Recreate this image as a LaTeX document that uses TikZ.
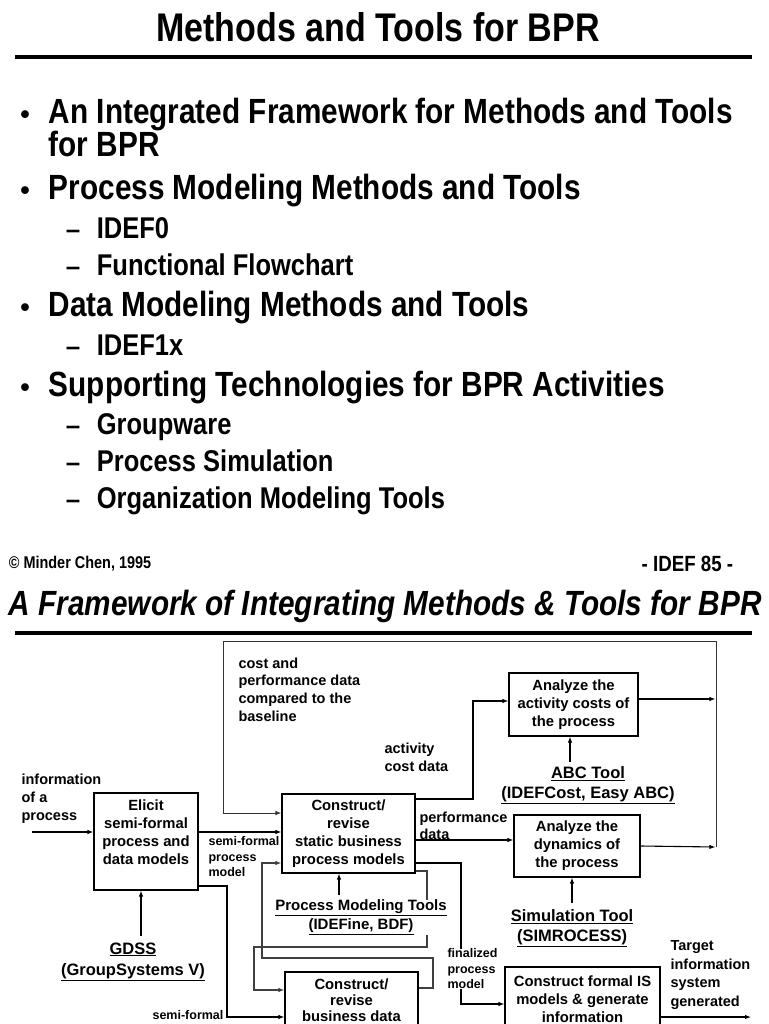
\documentclass[tikz,border=0pt]{standalone}
\usepackage{fontspec}
\setmainfont{Liberation Sans}
\newfontfamily\narrowfont[FakeStretch=0.85]{Liberation Sans}
\usetikzlibrary{arrows.meta}

\newcommand{\fsz}[2]{\fontsize{#1}{#2}\selectfont}

\begin{document}
\begin{tikzpicture}[
        x=1pt, y=-1pt, % page pixels, y runs down
        > = {Latex[length=6pt,width=4.5pt]}, % arrow head style
        line width=1.1pt,
        font=\bfseries
      ]

      \tikzstyle{box}=[rectangle, draw=black, align=center, inner sep=0pt, font=\bfseries\fsz{14.8}{18}]
      \tikzstyle{lbl}=[align=left, anchor=north west, inner sep=0pt, font=\bfseries\fsz{14.5}{18}]
      \tikzstyle{small}=[align=left, anchor=north west, inner sep=0pt, font=\bfseries\fsz{12.5}{15.5}]
      \tikzstyle{tool}=[align=center, inner sep=0pt, font=\bfseries\fsz{16.5}{20}]
      \tikzstyle{backline}=[->, draw=black!75, line width=1.2pt]

      \useasboundingbox[fill=white] (0,0) rectangle (768,1024);

      % upper slide
      \node[anchor=base, font=\narrowfont\bfseries\fsz{40}{40}] (title) at (378,42) {Methods and Tools for BPR};
      \draw[line width=4pt] (15,57) -- (752,57);

      \foreach \y/\t [count=\i] in {124/An Integrated Framework for Methods and Tools,
          200/Process Modeling Methods and Tools, 316/Data Modeling Methods and Tools,
          396/Supporting Technologies for BPR Activities} {
        \node[anchor=base, font=\bfseries\fsz{27}{27}] (dot\i) at (25,\y) {\textbullet};
        \node[anchor=base west, font=\narrowfont\bfseries\fsz{35}{35}] (item\i) at (45,\y) {\t};
      }
      \node[anchor=base west, font=\narrowfont\bfseries\fsz{35}{35}] (item1b) at (45,157) {for BPR};

      \foreach \y/\t [count=\i] in {238/IDEF0, 275/Functional Flowchart, 355/IDEF1x,
          434/Groupware, 471/Process Simulation, 508/Organization Modeling Tools} {
        \node[anchor=base west, font=\bfseries\fsz{26}{26}] (dash\i) at (62,\y) {\textendash};
        \node[anchor=base west, font=\narrowfont\bfseries\fsz{30}{30}] (sub\i) at (93,\y) {\t};
      }

      \node[anchor=base west, font=\narrowfont\bfseries\fsz{17}{17}] (copy) at (5,568) {\textcopyright\ Minder Chen, 1995};
      \node[anchor=base east, font=\narrowfont\bfseries\fsz{22}{22}] (page) at (737,571) {- IDEF 85 -};

      % lower slide
      \node[anchor=base west, font=\narrowfont\bfseries\itshape\fsz{35}{35}] (title2) at (5,615) {A Framework of Integrating Methods \& Tools for BPR};
      \draw[line width=4pt] (15,633) -- (752,633);

      \node[box, minimum width=104pt, minimum height=97pt] (elicit) at (146,841.5) {};
      \node[box, draw=none] (elicit-t) at (146,832.5) {Elicit\\semi-formal\\process and\\data models};
      \node[box, minimum width=133pt, minimum height=79pt] (static) at (348.5,833.5) {Construct/\\revise\\static business\\process models};
      \node[box, minimum width=129pt, minimum height=63pt] (cost) at (573.5,704.5) {Analyze the\\activity costs of\\the process};
      \node[box, minimum width=126pt, minimum height=62pt] (dyn) at (577,846) {Analyze the\\dynamics of\\the process};
      \node[box, minimum width=155pt, minimum height=64pt] (formal) at (582.5,999) {Construct formal IS\\models \& generate\\information};
      \node[box, minimum width=133pt, minimum height=56pt, font=\bfseries\fsz{14.8}{16}] (data) at (351.5,1000) {Construct/\\revise\\business data};

      \node[lbl] (info) at (21,773) {information\\of a\\process};
      \node[lbl, font=\bfseries\fsz{14.5}{17.7}] (compare) at (238,657) {cost and\\performance data\\compared to the\\baseline};
      \node[lbl] (actcost) at (384,742) {activity\\cost data};
      \node[lbl, font=\bfseries\fsz{14.5}{17}] (perf) at (419,811) {performance\\data};
      \node[small] (sfp) at (208,836) {semi-formal\\process\\model};
      \node[small] (sfd) at (152,1010) {semi-formal};
      \node[lbl, font=\bfseries\fsz{14.5}{18.5}] (target) at (670,940) {Target\\information\\system\\generated};

      \coordinate (info-in) at (32,832);
      \coordinate (abc-in) at (570,762);
      \coordinate (sim-in) at (572,903);
      \coordinate (pmt-in) at (339,895);
      \coordinate (gdss-in) at (141,936);
      \coordinate (fb) at (716,847);
      \coordinate (target-out) at (751,1017);

      % flows
      \draw[->] (info-in) -- (info-in -| elicit.west);
      \draw[->] (elicit.east |- info-in) -- (static.west |- info-in);
      \draw[->] (elicit.east |- 0,886) -| (227,1017) -- (data.west |- 0,1017);
      \draw[->] (static.east |- 0,799) -| (473,701) -- (cost.west |- 0,701);
      \draw[->] (static.east |- 0,840) -- (dyn.west |- 0,840);
      \draw[->, line width=1.8pt] (static.east |- 0,863) -| (461,1004) -- (formal.west |- 0,1004);
      \draw[->] (formal.east |- target-out) -- (target-out);

      \draw[backline] (static.east |- 0,871) -| (427,947) -| (254,990) -- (data.west |- 0,990);
      \draw[backline] (data.east |- 0,988) -| (433,958) -| (262,863) -- (static.west |- 0,863);

      % feedback to the baseline
      \draw[->, shorten >=0.6pt] (cost.east |- 0,699) -- (fb |- 0,699);
      \draw[->, shorten >=0.6pt] (dyn.east) -- (fb);
      \draw[->, draw=black!80, line width=1pt] (fb) |- (223,641) |- (static.west |- 0,813);

      \node[small, fill=white] (fin) at (447,948) {finalized\\process\\model};

      % mechanisms
      \node[tool] (abc) at (588,785) {\underline{ABC Tool}\\\underline{(IDEFCost, Easy ABC)}};
      \node[tool] (sim) at (572,928) {\underline{Simulation Tool}\\\underline{(SIMROCESS)}};
      \node[tool, fill=white, font=\bfseries\fsz{15}{19}] (pmt) at (361,917.5) {\underline{Process Modeling Tools}\\\underline{(IDEFine, BDF)}};
      \node[tool, font=\bfseries\fsz{16.5}{21}] (gdss) at (133,961.5) {\underline{GDSS}\\\underline{(GroupSystems V)}};

      \draw[->] (abc-in) -- (abc-in |- cost.south);
      \draw[->] (sim-in) -- (sim-in |- dyn.south);
      \draw[->] (pmt-in) -- (pmt-in |- static.south);
      \draw[->] (gdss-in) -- (gdss-in |- elicit.south);

    \end{tikzpicture}
\end{document}
